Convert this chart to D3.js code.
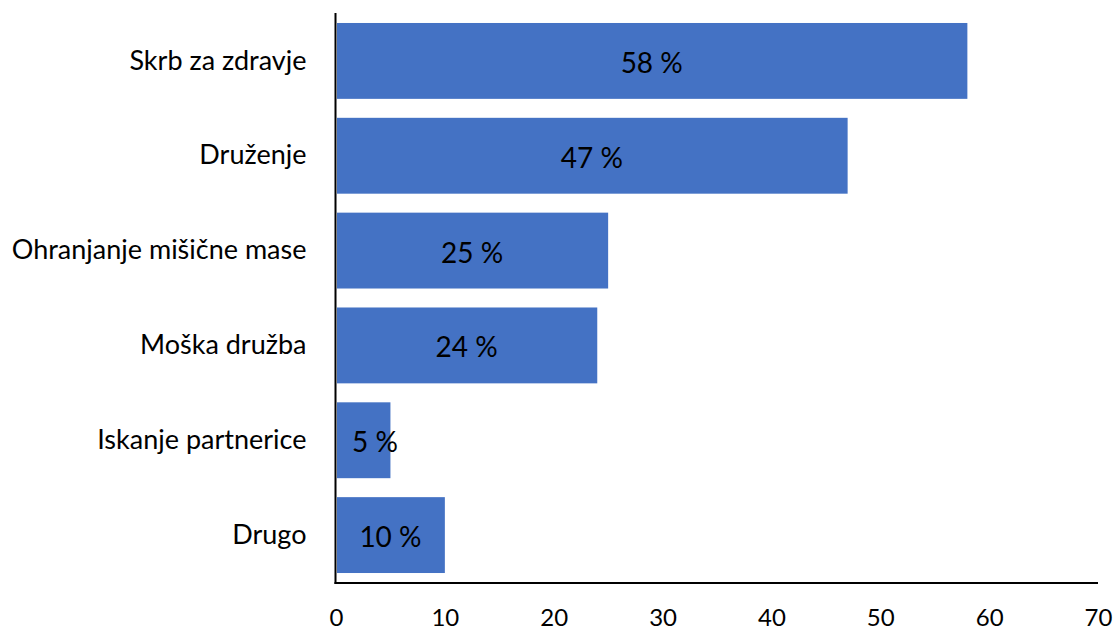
<!DOCTYPE html>
<html><head><meta charset="utf-8">
<script src="https://cdn.jsdelivr.net/npm/d3@7"></script>
<style>body{margin:0;background:#fff}svg{display:block}text{font-family:Lato,"Open Sans",sans-serif;fill:#000}</style>
</head><body><svg id="c" width="1115" height="633"></svg>
<script>
const categories = ["Skrb za zdravje","Druženje","Ohranjanje mišične mase","Moška družba","Iskanje partnerice","Drugo"];
const values = [58,47,25,24,5,10];
const valueLabels = ["58 %","47 %","25 %","24 %","5 %","10 %"];
const ticks = [0,10,20,30,40,50,60,70];

const svg = d3.select("#c");
const mLeft = 336, mRight = 1098, mTop = 13, mBottom = 583;
const x = d3.scaleLinear().domain([0,70]).range([mLeft,mRight]);
const y = d3.scaleBand().domain(categories).range([mTop+0.5, mBottom-0.5]).paddingInner(0.2).paddingOuter(0.1);

svg.append("g").selectAll("rect").data(categories).join("rect")
  .attr("x", x(0)+1).attr("y", d=>y(d)).attr("height", y.bandwidth())
  .attr("width", (d,i)=>x(values[i])-x(0)-1).attr("fill","#4472c4");

const lbl = svg.append("g").selectAll("text").data(categories).join("text")
  .attr("y", d=>y(d)+y.bandwidth()/2 + 1)
  .attr("text-anchor","middle").attr("dominant-baseline","central")
  .style("font-size","28px").text((d,i)=>valueLabels[i]);
lbl.attr("x", function(d,i){
  const w = this.getComputedTextLength();
  return Math.max((x(0)+x(values[i]))/2, x(0)+16+w/2);
});

const yAxis = svg.append("g").attr("transform",`translate(${mLeft-0.5},0)`)
  .call(d3.axisLeft(y).tickSize(0).tickPadding(29));
yAxis.select(".domain").remove();
yAxis.selectAll("text").style("font-size","27px").attr("font-family",null);
svg.append("line").attr("x1",mLeft-0.5).attr("x2",mLeft-0.5).attr("y1",mTop).attr("y2",mBottom+1).attr("stroke","#000").attr("stroke-width",2);

const xAxis = svg.append("g").attr("transform",`translate(0,${mBottom})`)
  .call(d3.axisBottom(x).tickValues(ticks).tickSize(0).tickPadding(26));
xAxis.select(".domain").remove();
xAxis.selectAll("text").style("font-size","24px").attr("font-family",null);
svg.append("line").attr("x1",mLeft-1.5).attr("x2",mRight).attr("y1",mBottom).attr("y2",mBottom).attr("stroke","#000").attr("stroke-width",2);
</script></body></html>
